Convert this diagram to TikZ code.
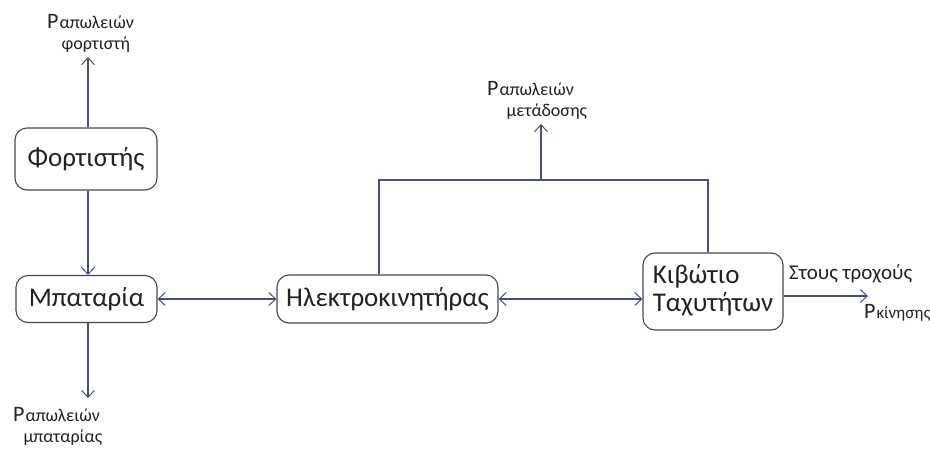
\documentclass[tikz,border=0pt]{standalone}
\usepackage{fontspec}
\setmainfont{Carlito}
\usetikzlibrary{arrows.meta}
\definecolor{wire}{RGB}{72,78,128}
\definecolor{frame}{RGB}{70,70,78}
\definecolor{ink}{RGB}{34,34,40}
\tikzset{
  block/.style={draw=frame, line width=1.1pt, rounded corners=12pt, text=ink,
    font=\fontsize{27}{30}\selectfont, inner sep=0pt},
  wireline/.style={draw=wire, line width=1.1pt},
  flow/.style={wireline, -{Straight Barb[length=7pt,width=13pt,line width=1pt]}},
  bothflow/.style={wireline, {Straight Barb[length=7pt,width=13pt,line width=1pt]}-{Straight Barb[length=7pt,width=13pt,line width=1pt]}},
  loss/.style={text=ink, inner sep=0pt, font=\fontsize{22}{22}\selectfont, anchor=base west}
}
% power symbol with a two-line subscript set at the same baseline;
% the optional argument shifts the second line sideways
\newcommand{\lossname}[3][0pt]{P\kern1pt{\fontsize{18}{21.5}\selectfont\begin{tabular}[t]{@{}l@{}}#2\\\hspace*{#1}#3\end{tabular}}}
\begin{document}
\begin{tikzpicture}[x=1pt,y=-1pt]
\useasboundingbox[fill=white] (0,0) rectangle (930,448);

% blocks
\node[block, minimum width=142pt, minimum height=62pt] (fort) at (86,159) {Φορτιστής};
\node[block, minimum width=141pt, minimum height=47pt] (bat) at (86.5,299) {Μπαταρία};
\node[block, minimum width=221pt, minimum height=48pt] (motor) at (387.5,299) {Ηλεκτροκινητήρας};
\node[block, minimum width=140pt, minimum height=77pt] (gear) at (713,291.5)
  {\begin{tabular}{@{}l@{}}Κιβώτιο\\[-2pt]Ταχυτήτων\end{tabular}};

% loss labels
\node[loss] (lossF) at (47,28) {\lossname[2pt]{απωλειών}{φορτιστή}};
\node[loss] (lossB) at (13,421) {\lossname[-2pt]{απωλειών}{μπαταρίας}};
\node[loss] (lossT) at (487,95) {\lossname[7pt]{απωλειών}{μετάδοσης}};
\node[loss] (drive) at (864,318) {P\kern1pt{\fontsize{17}{18}\selectfont κίνησης}};
\node[text=ink, inner sep=0pt, font=\fontsize{21}{24}\selectfont, anchor=base west] (wheels) at (789,279) {Στους τροχούς};

% coordinates for free ends and the transmission branch
\coordinate (fTop) at (88,57);
\coordinate (bBot) at (88,398);
\coordinate (split) at (541,180);
\coordinate (tTop) at (541,124);
\coordinate (out) at (868,296);

% connectors
\draw[flow] (fort.north -| fTop) -- (fTop);
\draw[flow] (fort.south -| fTop) -- (bat.north -| fTop);
\draw[flow] (bat.south -| bBot) -- (bBot);
\draw[bothflow] (bat.east) -- (motor.west);
\draw[bothflow] (motor.east) -- (motor.east -| gear.west);
\draw[wireline] ([xshift=-8.5pt]motor.north) |- (split) -| ([xshift=-5pt]gear.north);
\draw[flow] (split) -- (tTop);
\draw[flow] (gear.east |- out) -- (out);
\end{tikzpicture}
\end{document}
